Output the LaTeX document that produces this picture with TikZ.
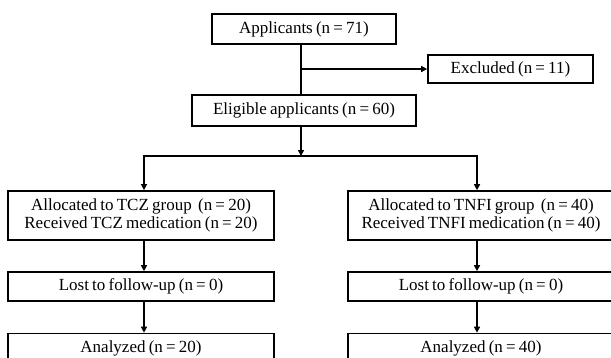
\documentclass[tikz,border=0pt]{standalone}
\usepackage{fontspec}
\setmainfont{Liberation Serif}[WordSpace=0.75]
\usetikzlibrary{arrows.meta}
\begin{document}
\begin{tikzpicture}[x=1pt,y=-1pt,
  box/.style={draw, line width=1.7pt, inner sep=0pt, align=center, font=\fontsize{17}{18.5}\selectfont},
  conn/.style={line width=1.7pt},
  arr/.style={conn, -{Triangle[length=6pt,width=6pt]}}]
\fill[white] (0,0) rectangle (611,357);
\useasboundingbox (0,0) rectangle (611,357);
\clip (0,0) rectangle (611,357);
\node[box, minimum width=184pt, minimum height=30pt] (app) at (304,29) {Applicants (n = 71)};
\node[box, minimum width=165pt, minimum height=28pt] (exc) at (510.5,69) {Excluded (n = 11)};
\node[box, minimum width=224pt, minimum height=31pt] (elig) at (304,110.5) {Eligible applicants (n = 60)};
\node[box, minimum width=266pt, minimum height=49pt] (tcz) at (141,215.5) {Allocated to TCZ group\ \ (n = 20)\\Received TCZ medication (n = 20)};
\node[box, minimum width=266pt, minimum height=49pt] (tnf) at (481,215.5) {Allocated to TNFI group\ \ (n = 40)\\Received TNFI medication (n = 40)};
\node[box, minimum width=266pt, minimum height=29pt] (lostl) at (141,286.5) {Lost to follow-up (n = 0)};
\node[box, minimum width=266pt, minimum height=29pt] (lostr) at (481,286.5) {Lost to follow-up (n = 0)};
\node[box, minimum width=266pt, minimum height=29pt] (anl) at (141,348) {Analyzed (n = 20)};
\node[box, minimum width=266pt, minimum height=29pt] (anr) at (481,348) {Analyzed (n = 40)};
\coordinate (br) at (301,69);
\coordinate (split) at (301,156);
\coordinate (sl) at (144,156);
\coordinate (sr) at (477,156);
\draw[conn] (app.south -| br) -- (elig.north -| br);
\draw[arr] (br) -- (exc.west);
\draw[arr] (elig.south -| split) -- (split);
\draw[conn, line cap=rect] (sl) -- (sr);
\draw[arr] (sl) -- (tcz.north -| sl);
\draw[arr] (sr) -- (tnf.north -| sr);
\draw[arr] (tcz.south -| sl) -- (lostl.north -| sl);
\draw[arr] (tnf.south -| sr) -- (lostr.north -| sr);
\draw[arr] (lostl.south -| sl) -- (anl.north -| sl);
\draw[arr] (lostr.south -| sr) -- (anr.north -| sr);
\end{tikzpicture}
\end{document}
